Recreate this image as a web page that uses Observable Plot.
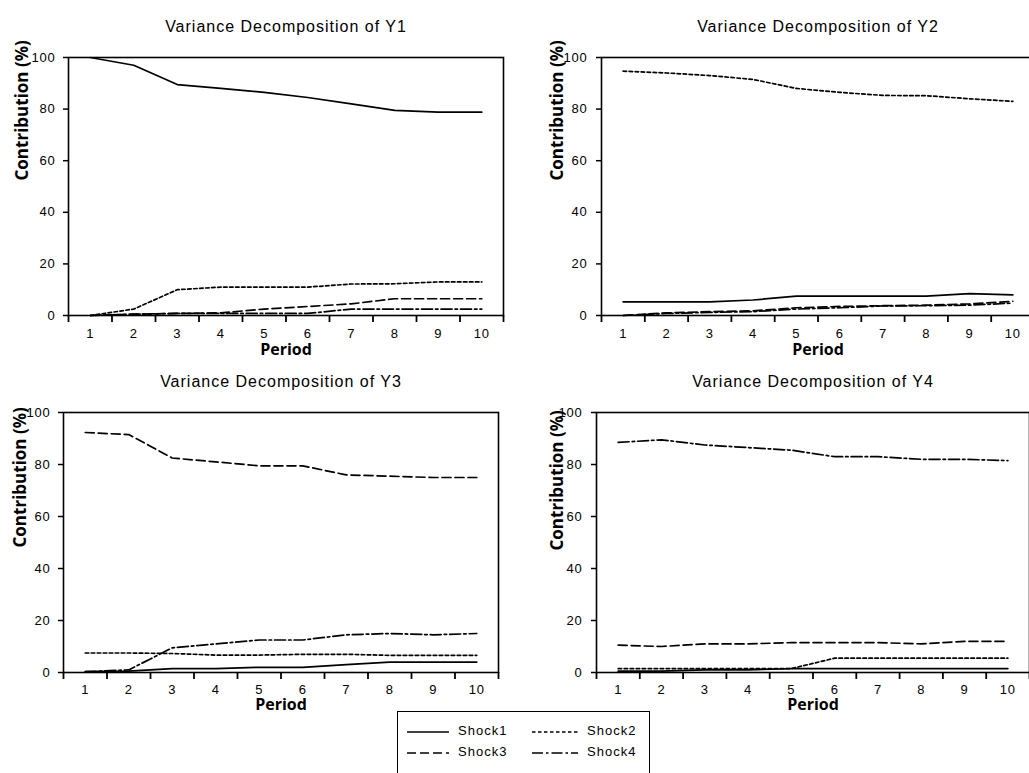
<!DOCTYPE html>
<html>
<head>
<meta charset="utf-8">
<script src="https://cdn.jsdelivr.net/npm/d3@7"></script>
<script src="https://cdn.jsdelivr.net/npm/@observablehq/plot@0.6"></script>
<style>
html, body { margin: 0; padding: 0; background: #fff; overflow: hidden; width: 1029px; height: 773px; }
#root { position: relative; width: 1029px; height: 773px; overflow: hidden; background: #fff; }
.panel { position: absolute; }
.panel svg { max-width: none; display: block; }
.panel svg g[aria-label$="tick label"] { letter-spacing: 0.8px; }
#legend { position: absolute; left: 397px; top: 711px; width: 251px; height: 72px; border: 1.5px solid #000; background: #fff;
  font-family: "Liberation Sans", Arial, sans-serif; font-size: 13px; letter-spacing: 1px; color: #000; }
#legend .item { position: absolute; display: flex; align-items: center; height: 16px; }
#legend .item span { margin-left: 9px; }
</style>
</head>
<body>
<div id="root"></div>
<script>
// ---- data ----
const periods = [1, 2, 3, 4, 5, 6, 7, 8, 9, 10];
const shocks = ["Shock1", "Shock2", "Shock3", "Shock4"];
const yTicks = [0, 20, 40, 60, 80, 100];
const xEdges = [0.5, 1.5, 2.5, 3.5, 4.5, 5.5, 6.5, 7.5, 8.5, 9.5, 10.5];
const titles = ["Variance Decomposition of Y1", "Variance Decomposition of Y2", "Variance Decomposition of Y3", "Variance Decomposition of Y4"];

// Variance decomposition of Y1 (Shock1..Shock4)
const y1Shock1 = [100, 97, 89.5, 88, 86.5, 84.5, 82, 79.5, 78.8, 78.8];
const y1Shock2 = [0, 2.5, 10, 11, 11, 11, 12.2, 12.3, 13, 13];
const y1Shock3 = [0, 0.5, 0.8, 1, 2.5, 3.5, 4.5, 6.5, 6.5, 6.5];
const y1Shock4 = [0, 0.5, 0.8, 0.8, 0.8, 0.8, 2.5, 2.5, 2.5, 2.5];
// Y2
const y2Shock1 = [5.3, 5.3, 5.3, 6, 7.5, 7.5, 7.5, 7.5, 8.5, 8];
const y2Shock2 = [94.7, 94, 93, 91.5, 88, 86.5, 85.3, 85.2, 84, 83];
const y2Shock3 = [0, 1, 1.5, 1.8, 3, 3.5, 3.8, 4, 4.5, 5.5];
const y2Shock4 = [0, 0.8, 1.2, 1.5, 2.5, 3, 3.7, 3.8, 4, 4.8];
// Y3
const y3Shock1 = [0.3, 0.5, 1.5, 1.5, 2, 2, 3, 4, 4, 4];
const y3Shock2 = [7.5, 7.5, 7.3, 6.7, 6.7, 7, 7, 6.6, 6.6, 6.6];
const y3Shock3 = [92.3, 91.5, 82.5, 81, 79.5, 79.5, 76, 75.5, 75, 75];
const y3Shock4 = [0.3, 1, 9.5, 11, 12.5, 12.5, 14.5, 15, 14.5, 15];
// Y4
const y4Shock1 = [0.5, 0.5, 1, 1, 1.5, 1.5, 1.5, 1.5, 1.5, 1.5];
const y4Shock2 = [1.5, 1.5, 1.5, 1.5, 1.5, 5.5, 5.5, 5.5, 5.5, 5.5];
const y4Shock3 = [10.5, 10, 11, 11, 11.5, 11.5, 11.5, 11, 12, 12];
const y4Shock4 = [88.5, 89.5, 87.5, 86.5, 85.5, 83, 83, 82, 82, 81.5];

const seriesByPanel = [
  [y1Shock1, y1Shock2, y1Shock3, y1Shock4],
  [y2Shock1, y2Shock2, y2Shock3, y2Shock4],
  [y3Shock1, y3Shock2, y3Shock3, y3Shock4],
  [y4Shock1, y4Shock2, y4Shock3, y4Shock4]
];

// ---- styles / layout ----
const dashes = [null, "3.5,2.5", "9,4", "11,3,2.5,3"];
const sansFont = "'Liberation Sans', Arial, sans-serif";
const boldFont = "'Open Sans', 'Liberation Sans', sans-serif";

const layout = [
  {left: 0,   top: 0,   width: 515, height: 365, mL: 68, mR: 12, mT: 57, mB: 50,  yPad: 8, yDx: -46, yDy: -6, xPad: 13.5, pDy: 39},
  {left: 515, top: 0,   width: 530, height: 365, mL: 86, mR: 11, mT: 57, mB: 50,  yPad: 9, yDx: -44, yDy: -6, xPad: 13.5, pDy: 39},
  {left: 0,   top: 365, width: 515, height: 408, mL: 63, mR: 17, mT: 47, mB: 101, yPad: 8, yDx: -43, yDy: 5,  xPad: 12,   pDy: 37.5},
  {left: 515, top: 365, width: 530, height: 408, mL: 81, mR: 16, mT: 47, mB: 101, yPad: 9, yDx: -39, yDy: 8,  xPad: 12,   pDy: 37.5}
];

const root = document.getElementById("root");

layout.forEach((L, k) => {
  const series = seriesByPanel[k];
  const data = shocks.flatMap((s, i) => periods.map((p, j) => ({period: p, value: series[i][j], shock: s})));
  const chart = Plot.plot({
    width: L.width,
    height: L.height,
    marginLeft: L.mL,
    marginRight: L.mR,
    marginTop: L.mT,
    marginBottom: L.mB,
    x: {domain: [0.5, 10.5], axis: null},
    y: {domain: [0, 100], axis: null},
    style: {fontFamily: sansFont, fontSize: "13px", background: "#fff", color: "#000", overflow: "visible"},
    marks: [
      Plot.axisY({ticks: yTicks, tickSize: 5, tickPadding: L.yPad, label: null, strokeWidth: 1.5, fontSize: 13}),
      Plot.axisX({ticks: xEdges, tickSize: 7, tickFormat: () => "", label: null, strokeWidth: 1.8}),
      Plot.axisX({ticks: periods, tickSize: 0, tickPadding: L.xPad, label: null, fontSize: 13, tickFormat: d => String(d)}),
      ...shocks.map((s, i) => Plot.line(data.filter(d => d.shock === s), {
        x: "period", y: "value", stroke: "#000", strokeWidth: 1.7,
        strokeDasharray: dashes[i] || undefined
      })),
      Plot.frame({stroke: "#000", strokeWidth: 1.6}),
      Plot.text([titles[k]], {text: d => d, frameAnchor: "top", dy: -37, fontSize: 16, fontFamily: sansFont, fill: "#000"}),
      Plot.text(["Contribution (%)"], {text: d => d, frameAnchor: "left", dx: L.yDx, dy: L.yDy, rotate: -90, fontSize: 17, fontWeight: "bold", fontFamily: boldFont, fill: "#000"}),
      Plot.text(["Period"], {text: d => d, frameAnchor: "bottom", dy: L.pDy, fontSize: 16, fontWeight: "bold", fontFamily: boldFont, fill: "#000"})
    ]
  });
  chart.querySelectorAll('g[aria-label="text"] text').forEach(t => {
    if (t.textContent.startsWith("Variance")) t.style.letterSpacing = "1px";
  });
  const div = document.createElement("div");
  div.className = "panel";
  div.style.left = L.left + "px";
  div.style.top = L.top + "px";
  div.style.width = L.width + "px";
  div.style.height = L.height + "px";
  div.appendChild(chart);
  root.appendChild(div);
});

// ---- legend ----
const legend = document.createElement("div");
legend.id = "legend";
const legendPos = [
  {x: 9, y: 10, w: 42}, {x: 134, y: 10, w: 46},
  {x: 9, y: 31, w: 42}, {x: 134, y: 31, w: 46}
];
shocks.forEach((s, i) => {
  const P = legendPos[i];
  const item = document.createElement("div");
  item.className = "item";
  item.style.left = P.x + "px";
  item.style.top = P.y + "px";
  const ns = "http://www.w3.org/2000/svg";
  const svg = document.createElementNS(ns, "svg");
  svg.setAttribute("width", P.w);
  svg.setAttribute("height", 10);
  const ln = document.createElementNS(ns, "line");
  ln.setAttribute("x1", 0); ln.setAttribute("x2", P.w);
  ln.setAttribute("y1", 7); ln.setAttribute("y2", 7);
  ln.setAttribute("stroke", "#000");
  ln.setAttribute("stroke-width", 1.5);
  if (dashes[i]) ln.setAttribute("stroke-dasharray", dashes[i]);
  svg.appendChild(ln);
  const label = document.createElement("span");
  label.textContent = s;
  item.appendChild(svg);
  item.appendChild(label);
  legend.appendChild(item);
});
root.appendChild(legend);
</script>
</body>
</html>
